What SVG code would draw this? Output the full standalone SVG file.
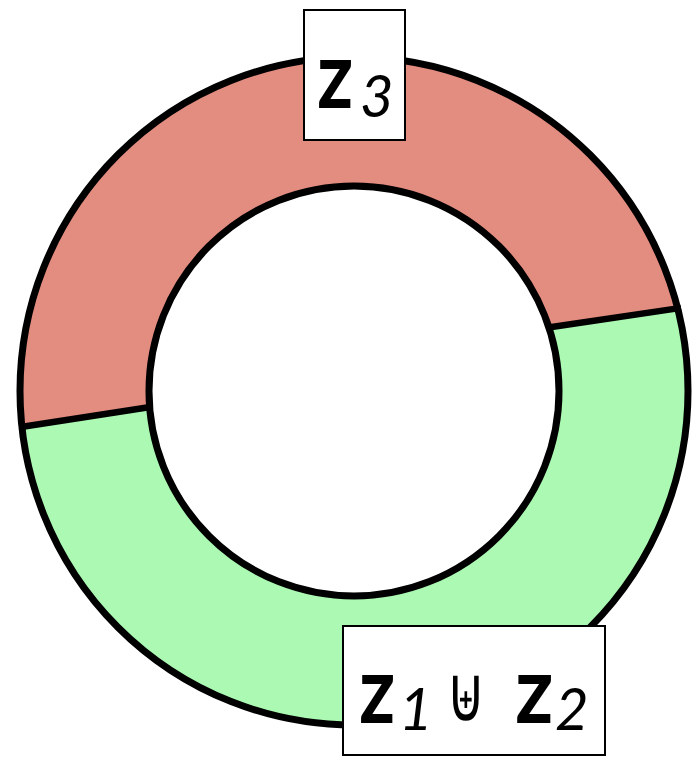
<svg xmlns="http://www.w3.org/2000/svg" width="695" height="757" viewBox="0 0 695 757">
<style>
.ring{fill:none;stroke:#000;stroke-width:7}
.div{stroke:#000;stroke-width:6.5;stroke-linecap:butt}
.box{fill:#fff;stroke:#000;stroke-width:2}
.z{font-family:Lato,"Open Sans",sans-serif;font-weight:bold;font-size:93px;fill:#000}
.sub{font-family:Lato,"Open Sans",sans-serif;font-style:italic;font-size:58px;fill:#000}
.op{font-family:"DejaVu Sans",sans-serif;font-weight:200;font-size:72px;fill:#000;text-anchor:middle}
</style>
<defs>
<clipPath id="annulus">
<path clip-rule="evenodd" d="M354 57 A334 334 0 1 1 353.99 57 Z M354 186 A205 205 0 1 0 354.01 186 Z"/>
</clipPath>
</defs>
<g id="ring">
<path fill="#abf9b2" fill-rule="evenodd" d="M354 57 A334 334 0 1 1 353.99 57 Z M354 186 A205 205 0 1 0 354.01 186 Z"/>
<polygon fill="#e38c80" clip-path="url(#annulus)" points="0,430 150,407 552,327 695,305.8 695,0 0,0"/>
<circle class="ring" cx="354" cy="391" r="334"/>
<circle class="ring" cx="354" cy="391" r="205"/>
</g>
<g id="connectors">
<line class="div" x1="21" y1="427" x2="152" y2="406.8"/>
<line class="div" x1="550" y1="327.3" x2="681" y2="307.9"/>
</g>
<g id="label-z3">
<rect class="box" x="304" y="10" width="101" height="130"/>
<text class="z" transform="translate(317,108) scale(0.85,1)">z</text>
<text class="sub" x="360" y="117">3</text>
</g>
<g id="label-z1z2">
<rect class="box" x="343" y="626" width="262" height="129"/>
<text class="z" transform="translate(359,723) scale(0.85,1)">z</text>
<text class="sub" x="399" y="730">1</text>
<text class="op" transform="translate(466,721) scale(0.75,1.08)">⊎</text>
<text class="z" transform="translate(515,723) scale(0.9,1)">z</text>
<text class="sub" x="555" y="730">2</text>
</g>
</svg>
